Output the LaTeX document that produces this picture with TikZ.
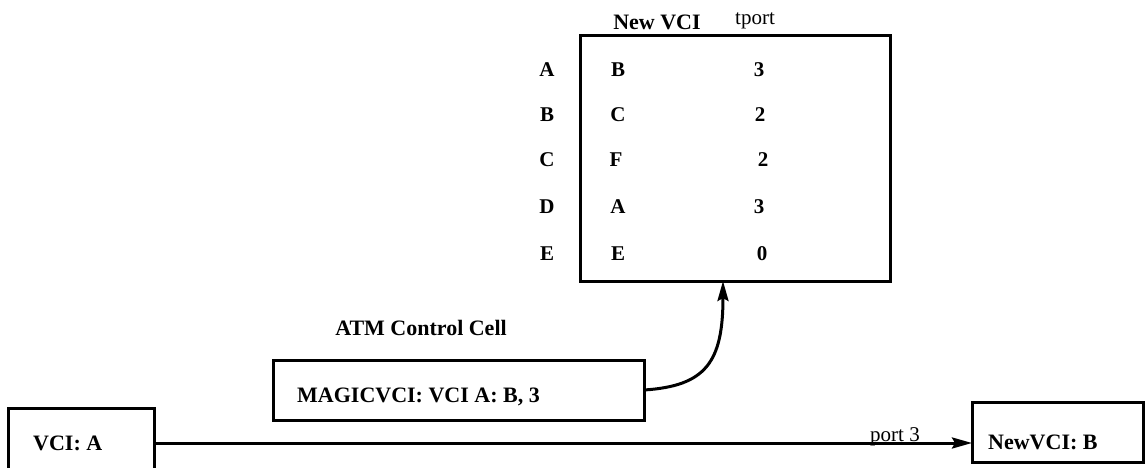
\documentclass[tikz,border=0pt]{standalone}
\usepackage{fontspec}
\setmainfont{Liberation Serif}
\usetikzlibrary{arrows.meta}
\begin{document}
\begin{tikzpicture}[x=1pt,y=-1pt,
  box/.style={draw,line width=3pt,inner sep=0pt,outer sep=0pt},
  txt/.style={font=\fontsize{22}{26}\selectfont\bfseries,inner sep=0pt},
  rtxt/.style={font=\fontsize{21}{25}\selectfont,inner sep=0pt},
  cell/.style={font=\fontsize{21}{25}\selectfont\bfseries,inner sep=0pt},
  conn/.style={line width=3pt,-{Stealth[length=20pt,width=11pt,inset=3pt]}}]
\clip (0,0) rectangle (1146,467);
\fill[white] (0,0) rectangle (1146,467);
% table
\node[box,minimum width=310pt,minimum height=246pt,anchor=north west] (tbl) at (580,35) {};
\node[txt] (h1) at (657,22) {New VCI};
\node[rtxt] (h2) at (755,21) {tport};
\node[cell] (ra) at (547,70) {A};
\node[cell] (rb) at (547,115) {B};
\node[cell] (rc) at (547,160) {C};
\node[cell] (rd) at (547,207) {D};
\node[cell] (re) at (547,254) {E};
\node[cell] (va) at (618,70) {B};
\node[cell] (vb) at (618,115) {C};
\node[cell] (vc) at (616,160) {F};
\node[cell] (vd) at (618,207) {A};
\node[cell] (ve) at (618,254) {E};
\node[cell] (pa) at (759,70) {3};
\node[cell] (pb) at (760,115) {2};
\node[cell] (pc) at (763,160) {2};
\node[cell] (pd) at (759,207) {3};
\node[cell] (pe) at (762,254) {0};
% control cell
\node[txt] (atm) at (421,328) {ATM Control Cell};
\node[box,minimum width=371pt,minimum height=60pt,anchor=north west] (magic) at (273,360) {};
\node[txt,anchor=west] (magict) at (297,397) {MAGICVCI: VCI A: B, 3};
\coordinate (tin) at (723,281);
\draw[conn] (magic.east) .. controls (706,386) and (723,362) .. (tin);
% VCI boxes
\node[box,minimum width=146pt,minimum height=80pt,anchor=north west] (vci) at (8,408) {};
\node[txt,anchor=west] (vcit) at (33,443) {VCI: A};
\node[box,minimum width=171pt,minimum height=60pt,anchor=north west] (nvci) at (972,402) {};
\node[txt,anchor=west] (nvcit) at (988,442) {NewVCI: B};
\coordinate (vout) at (154,443);
\draw[conn] (vout) -- (nvci.west |- vout);
\node[rtxt,anchor=base] (port) at (895,441) {port 3};
\end{tikzpicture}
\end{document}
